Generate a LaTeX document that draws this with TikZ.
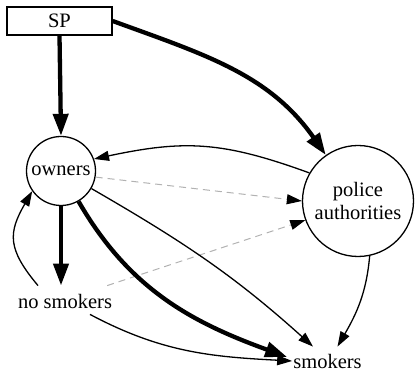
\documentclass[tikz,border=0pt]{standalone}
\usepackage{fontspec}
\setmainfont{Liberation Serif}
\usetikzlibrary{arrows.meta}
\begin{document}
\begin{tikzpicture}[x=1pt,y=1pt,
  every node/.style={font=\fontsize{20.5}{23}\selectfont},
  circ/.style={draw,circle,line width=1.3pt,inner sep=0pt,align=center},
  thin/.style={line width=1.3pt,-{Triangle[length=15pt,width=10pt]}},
  thickl/.style={line width=4.3pt,-{Triangle[length=22pt,width=15pt]}},
  dashl/.style={line width=1pt,gray!60,dash pattern=on 7pt off 5pt,-{Triangle[length=15pt,width=10pt,black]}}]
\useasboundingbox (0,0) rectangle (415,371);
\node[draw,line width=1.3pt,minimum width=105pt,minimum height=28pt,inner sep=0pt] (SP) at (59.5,350) {SP};
\node[circ,minimum size=69pt] (owners) at (61,200) {owners};
\node[circ,minimum size=111pt] (police) at (358,170) {police\\authorities};
\node[inner xsep=2pt,inner ysep=8pt] (nosmokers) at (65,70) {no smokers};
\node[inner xsep=1pt,inner ysep=7pt] (smokers) at (327.5,10) {smokers};

\draw[thickl] (SP.south) -- (owners.north);
\draw[thickl] (SP.east) to[out=-20,in=125] (police.125);
\draw[thin] (police.150) to[out=160,in=12,looseness=1.1] (owners.20);
\draw[dashl] (owners.-10) -- (police.180);
\draw[dashl] ([xshift=-7pt]nosmokers.north east) -- (police.200);
\draw[thin] ([xshift=-27pt]nosmokers.north) to[out=130,in=240,looseness=1.3] (owners.215);
\draw[thickl] (owners.south) -- (owners.south |- nosmokers.north);
\draw[thickl] (owners.-60) to[out=-60,in=160] ([xshift=-5pt,yshift=4pt]smokers.west);
\draw[thin] (owners.-30) to[out=-30,in=138] ([xshift=-14.5pt]smokers.north);
\draw[thin] (police.-78) to[out=-95,in=60] ([xshift=10pt]smokers.north);
\draw[thin] ([xshift=25pt,yshift=2pt]nosmokers.south) to[out=-28,in=177] (smokers.west);
\end{tikzpicture}
\end{document}
